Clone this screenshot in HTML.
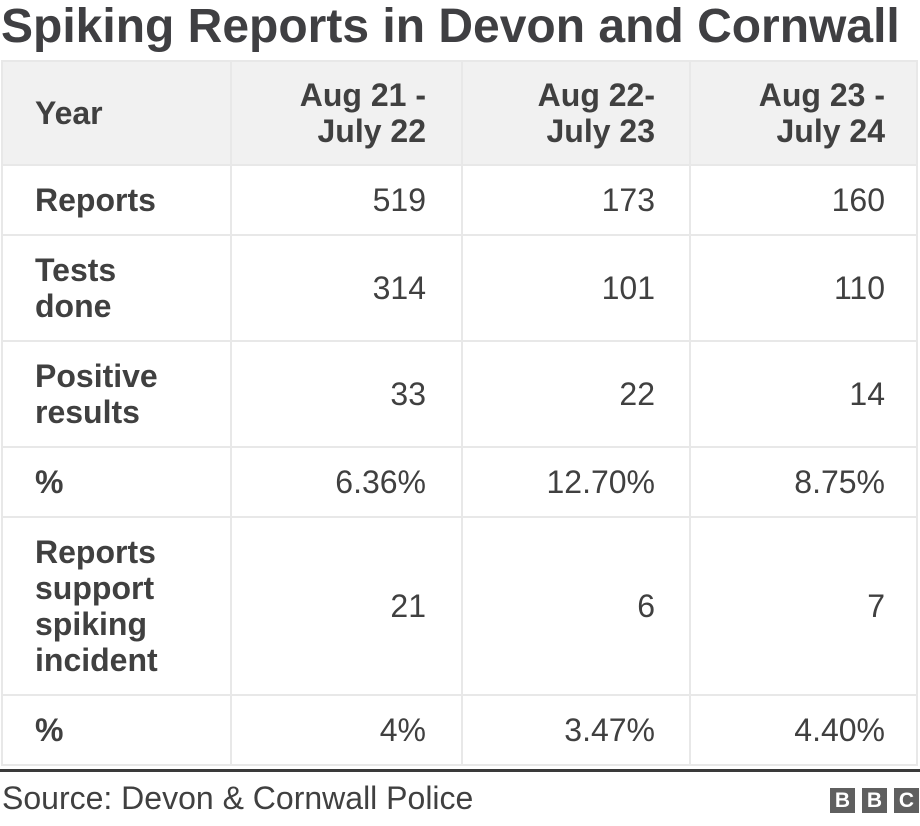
<!DOCTYPE html>
<html><head><meta charset="utf-8">
<style>
html,body{margin:0;padding:0;background:#fff;}
body{width:920px;height:826px;position:relative;overflow:hidden;font-family:"Liberation Sans",Arial,sans-serif;color:#404040;}
.title{position:absolute;left:1px;top:1px;font-size:48px;font-weight:bold;line-height:52px;white-space:nowrap;color:#3f3f42;}
.row{position:absolute;left:1px;width:917px;box-sizing:border-box;border:2px solid #e8e8e8;border-top:none;}
.row.first{border-top:2px solid #e8e8e8;}
.cell{position:absolute;top:0;bottom:0;display:flex;align-items:center;font-size:32px;line-height:36px;box-sizing:border-box;}
.c0{left:0;width:229px;padding-left:32px;font-weight:bold;border-right:2px solid #e8e8e8;}
.c1{left:229px;width:231px;justify-content:flex-end;text-align:right;padding-right:35px;border-right:2px solid #e8e8e8;}
.c2{left:460px;width:228px;justify-content:flex-end;text-align:right;padding-right:34px;border-right:2px solid #e8e8e8;}
.c3{left:688px;width:227px;justify-content:flex-end;text-align:right;padding-right:33px;}
.hdr{background:#f1f1f1;}
.hdr .cell{font-weight:bold;}
.rule{position:absolute;left:0;top:769px;width:920px;height:3px;background:#3a3a3a;}
.source{position:absolute;left:2px;top:780px;font-size:32px;line-height:36px;color:#404040;}
.logo{position:absolute;top:788px;width:25px;height:25px;background:#5f5f5f;color:#fff;font-weight:bold;font-size:21px;line-height:25px;text-align:center;}
</style></head><body>
<div class="title">Spiking Reports in Devon and Cornwall</div>

<div class="row first hdr" style="top:60px;height:106px">
 <div class="cell c0">Year</div>
 <div class="cell c1">Aug 21 -<br>July 22</div>
 <div class="cell c2">Aug 22-<br>July 23</div>
 <div class="cell c3">Aug 23 -<br>July 24</div>
</div>
<div class="row" style="top:166px;height:70px">
 <div class="cell c0">Reports</div>
 <div class="cell c1">519</div>
 <div class="cell c2">173</div>
 <div class="cell c3">160</div>
</div>
<div class="row" style="top:236px;height:106px">
 <div class="cell c0">Tests<br>done</div>
 <div class="cell c1">314</div>
 <div class="cell c2">101</div>
 <div class="cell c3">110</div>
</div>
<div class="row" style="top:342px;height:106px">
 <div class="cell c0">Positive<br>results</div>
 <div class="cell c1">33</div>
 <div class="cell c2">22</div>
 <div class="cell c3">14</div>
</div>
<div class="row" style="top:448px;height:70px">
 <div class="cell c0">%</div>
 <div class="cell c1">6.36%</div>
 <div class="cell c2">12.70%</div>
 <div class="cell c3">8.75%</div>
</div>
<div class="row" style="top:518px;height:178px">
 <div class="cell c0">Reports<br>support<br>spiking<br>incident</div>
 <div class="cell c1">21</div>
 <div class="cell c2">6</div>
 <div class="cell c3">7</div>
</div>
<div class="row" style="top:696px;height:70px">
 <div class="cell c0">%</div>
 <div class="cell c1">4%</div>
 <div class="cell c2">3.47%</div>
 <div class="cell c3">4.40%</div>
</div>

<div class="rule"></div>
<div class="source">Source: Devon &amp; Cornwall Police</div>
<div class="logo" style="left:830px">B</div>
<div class="logo" style="left:862px">B</div>
<div class="logo" style="left:894px">C</div>
</body></html>
